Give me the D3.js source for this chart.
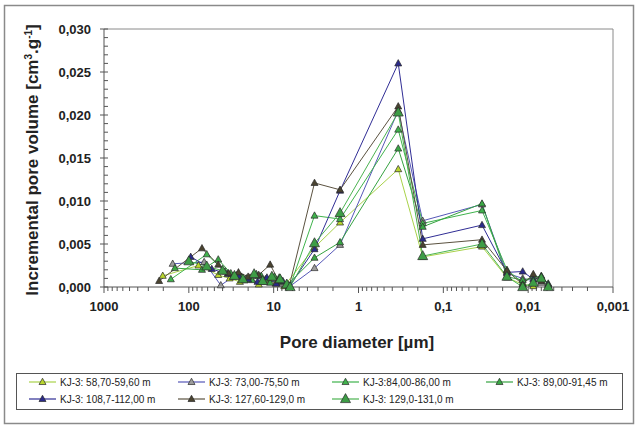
<!DOCTYPE html>
<html><head><meta charset="utf-8">
<script src="https://cdn.jsdelivr.net/npm/d3@7"></script>
<style>body{margin:0;background:#fff}svg{display:block;font-family:Arial,"Liberation Sans",sans-serif}</style>
</head><body><svg id="c" width="635" height="425"></svg>
<script>
const seriesNames = ["KJ-3: 58,70-59,60 m","KJ-3: 73,00-75,50 m","KJ-3:84,00-86,00 m","KJ-3: 89,00-91,45 m","KJ-3: 108,7-112,00 m","KJ-3: 127,60-129,0 m","KJ-3: 129,0-131,0 m"];
const lineColors = ["#a9d24a","#5658b8","#3fb34c","#36a341","#302d95","#5b5240","#4bb351"];
const markerColors = ["#b9d62e","#9c9c9c","#3fb34c","#3aa845","#2b2a8a","#4a4330","#3e9d46"];
const markerSizes = [7,7,7,7,7,7,10];

const s1d = [203,77,45,33,25,19,15,12,9.5,7.5,3.3,1.65,0.34,0.175,0.035,0.0178,0.0116,0.0087];
const s1v = [0.0013,0.0025,0.0014,0.0010,0.0006,0.0011,0.0003,0.0008,0.0004,0.0001,0.0046,0.0075,0.0137,0.0035,0.0047,0.0011,0.0003,0.0001];
const s2d = [155,66,42,30,22,17,13,10,8,6.6,3.3,1.65,0.34,0.175,0.035,0.0178,0.0116,0.0070];
const s2v = [0.0027,0.0029,0.0002,0.0012,0.0008,0.0013,0.0006,0.0010,0.0004,0.0000,0.0022,0.0049,0.0205,0.0077,0.0096,0.0016,0.0010,0.0005];
const s3d = [163,61.5,37.4,27,21,16,12.5,9.8,8.2,6.4,3.3,1.65,0.34,0.175,0.035,0.0178,0.0116,0.0087,0.0058];
const s3v = [0.0009,0.0038,0.0018,0.0014,0.0010,0.0015,0.0009,0.0012,0.0006,0.0001,0.0083,0.0079,0.0183,0.0074,0.0089,0.0020,0.0005,0.0012,0.0002];
const s4d = [146,70,45,32,24,18,14,11,8.6,6.8,3.3,1.65,0.34,0.175,0.035,0.0178,0.0116,0.0070,0.0058];
const s4v = [0.0022,0.0020,0.0032,0.0016,0.0012,0.0008,0.0013,0.0005,0.0011,0.0003,0.0034,0.0052,0.0161,0.0070,0.0097,0.0012,0.0008,0.0013,0.0004];
const s5d = [95,53.7,35,26,20,15.5,12,9.3,7.8,6.5,3.3,1.65,0.34,0.175,0.035,0.0178,0.0116,0.0087,0.0070,0.0058];
const s5v = [0.0035,0.0021,0.0015,0.0013,0.0009,0.0006,0.0011,0.0004,0.0007,0.0001,0.0044,0.0112,0.0260,0.0056,0.0072,0.0017,0.0018,0.0009,0.0012,0.0003];
const s6d = [224,70,45,34,26,20,15,11,8.8,6.6,3.3,1.65,0.34,0.175,0.035,0.0178,0.0116,0.0087,0.0070];
const s6v = [0.0007,0.0045,0.0026,0.0016,0.0017,0.0012,0.0014,0.0026,0.0008,0.0000,0.0121,0.0113,0.0210,0.0049,0.0055,0.0019,0.0003,0.0015,0.0007];
const s7d = [100,61.5,40,29,23,17,13.5,10.5,8.4,7,6.4,3.3,1.65,0.34,0.175,0.035,0.0178,0.0116,0.0087,0.0070,0.0058];
const s7v = [0.0030,0.0024,0.0019,0.0013,0.0009,0.0015,0.0007,0.0012,0.0009,0.0003,0.0000,0.0051,0.0086,0.0203,0.0036,0.0050,0.0012,0.0000,0.0005,0.0010,0.0000];

const xTicks = [1000,100,10,1,0.1,0.01,0.001];
const xTickLabels = ["1000","100","10","1","0,1","0,01","0,001"];
const yTicks = [0,0.005,0.010,0.015,0.020,0.025,0.030];
const yTickLabels = ["0,000","0,005","0,010","0,015","0,020","0,025","0,030"];

const diam = [s1d,s2d,s3d,s4d,s5d,s6d,s7d];
const vols = [s1v,s2v,s3v,s4v,s5v,s6v,s7v];

const svg = d3.select("#c");
const L=104,R=613,T=29,B=287;
const x = d3.scaleLog().domain([1000,0.001]).range([L,R]);
const y = d3.scaleLinear().domain([0,0.030]).range([B,T]);

// outer frame
svg.append("rect").attr("x",4.5).attr("y",5.5).attr("width",629).attr("height",418).attr("fill","none").attr("stroke","#8a8a8a").attr("stroke-width",1.5);

// plot frame top/right
svg.append("path").attr("d",`M${L},${T}H${R}V${B}`).attr("fill","none").attr("stroke","#8a8a8a").attr("stroke-width",1);

// y axis
const gy = svg.append("g");
gy.append("line").attr("x1",L).attr("x2",L).attr("y1",T).attr("y2",B).attr("stroke","#555");
const yMinor = d3.range(0,31).map(i=>i/1000);
gy.selectAll(".ym").data(yMinor).join("line").attr("x1",L).attr("x2",L+4).attr("y1",d=>y(d)).attr("y2",d=>y(d)).attr("stroke","#555");
gy.selectAll(".yM").data(yTicks).join("line").attr("x1",L-4).attr("x2",L).attr("y1",d=>y(d)).attr("y2",d=>y(d)).attr("stroke","#555");
gy.selectAll(".yl").data(yTicks).join("text").attr("x",91).attr("y",d=>y(d)+4.5).attr("text-anchor","end")
  .attr("font-size",13).attr("font-weight","bold").attr("fill","#222").text((d,i)=>yTickLabels[i]);

// x axis
const gx = svg.append("g");
gx.append("line").attr("x1",L).attr("x2",R).attr("y1",B).attr("y2",B).attr("stroke","#555");
const xMinor = [];
for (let e=-3;e<3;e++){ for (let k=2;k<10;k++) xMinor.push(k*Math.pow(10,e)); }
gx.selectAll(".xm").data(xMinor).join("line").attr("x1",d=>x(d)).attr("x2",d=>x(d)).attr("y1",B).attr("y2",B+4).attr("stroke","#555");
gx.selectAll(".xM").data(xTicks).join("line").attr("x1",d=>x(d)).attr("x2",d=>x(d)).attr("y1",B).attr("y2",B+6).attr("stroke","#555");
gx.selectAll(".xl").data(xTicks).join("text").attr("x",d=>x(d)).attr("y",311).attr("text-anchor","middle")
  .attr("font-size",13).attr("font-weight","bold").attr("fill","#222").text((d,i)=>xTickLabels[i]);

// axis titles
svg.append("text").attr("x",357).attr("y",348).attr("text-anchor","middle").attr("font-size",17).attr("font-weight","bold").attr("fill","#222").text("Pore diameter [µm]");
const yt = svg.append("text").attr("transform","translate(38,160) rotate(-90)").attr("text-anchor","middle").attr("font-size",17).attr("font-weight","bold").attr("fill","#222");
yt.append("tspan").text("Incremental pore volume [cm");
yt.append("tspan").attr("font-size",10).attr("dy",-6).text("3");
yt.append("tspan").attr("dy",6).text(".g");
yt.append("tspan").attr("font-size",10).attr("dy",-6).text("-1");
yt.append("tspan").attr("dy",6).text("]");

const tri = s => { const h=s*0.9; return `M0,${-h*0.6}L${s/2},${h*0.4}L${-s/2},${h*0.4}Z`; };

// lines
const line = d3.line().x(d=>x(d[0])).y(d=>y(d[1]));
const series = diam.map((ds,i)=>ds.map((d,j)=>[d,vols[i][j]]));
series.forEach((pts,i)=>{
  svg.append("path").datum(pts).attr("d",line).attr("fill","none").attr("stroke",lineColors[i]).attr("stroke-width",1);
});
series.forEach((pts,i)=>{
  svg.append("g").selectAll("path").data(pts).join("path")
    .attr("transform",d=>`translate(${x(d[0])},${y(d[1])})`).attr("d",tri(markerSizes[i]))
    .attr("fill",markerColors[i]).attr("stroke","#2a2a2a").attr("stroke-width",0.7);
});

// legend
svg.append("rect").attr("x",16.5).attr("y",373.5).attr("width",606).attr("height",36).attr("fill","none").attr("stroke","#555").attr("stroke-width",1);
const colX = [29,178,332,486];
const rowY = [382,399];
seriesNames.forEach((n,i)=>{
  const cx = colX[i%4], cy = rowY[Math.floor(i/4)];
  const g = svg.append("g");
  g.append("line").attr("x1",cx).attr("x2",cx+27).attr("y1",cy).attr("y2",cy).attr("stroke",lineColors[i]).attr("stroke-width",1.2);
  g.append("path").attr("transform",`translate(${cx+13.5},${cy})`).attr("d",tri(markerSizes[i])).attr("fill",markerColors[i]).attr("stroke","#2a2a2a").attr("stroke-width",0.7);
  g.append("text").attr("x",cx+31).attr("y",cy+3.5).attr("font-size",10).attr("fill","#222").text(n);
});
</script></body></html>
